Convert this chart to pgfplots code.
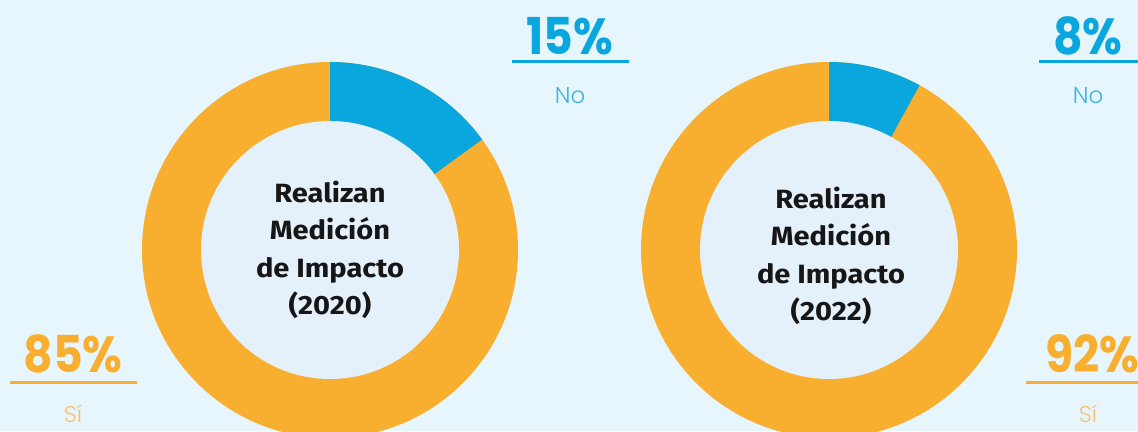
\documentclass[border=0pt]{standalone}
\usepackage{pgfplots}
\pgfplotsset{compat=1.18}
\usepackage{fontspec}
\setmainfont{Fira Sans}
\newfontfamily\pop{Poppins}
\newfontfamily\poplight{Poppins Light}
\definecolor{bgcol}{RGB}{231,245,252}
\definecolor{innercol}{RGB}{228,240,250}
\definecolor{bluec}{RGB}{10,167,223}
\definecolor{orangec}{RGB}{248,175,47}
\definecolor{oranget}{RGB}{246,194,112}
\definecolor{bluet}{RGB}{60,180,228}
\definecolor{darkt}{RGB}{22,22,22}
% data: percentages
\def\noA{15}\def\siA{85}
\def\noB{8}\def\siB{92}
\begin{document}
\begin{tikzpicture}
\begin{axis}[
  width=1138bp, height=431bp, scale only axis,
  xmin=0, xmax=1138, ymin=0, ymax=431,
  hide axis, clip=true,
]
\fill[bgcol] (rel axis cs:0,0) rectangle (rel axis cs:1,1);
% donut 2020
\pgfmathsetmacro{\eA}{90-3.6*\noA}
\fill[orangec] (axis cs:330,181) circle[radius=188bp];
\fill[bluec] (axis cs:330,181) -- ++(90:188bp) arc[start angle=90, end angle=\eA, radius=188bp] -- cycle;
\fill[innercol] (axis cs:330,181) circle[radius=129bp];
% donut 2022
\pgfmathsetmacro{\eB}{90-3.6*\noB}
\fill[orangec] (axis cs:829,181) circle[radius=188bp];
\fill[bluec] (axis cs:829,181) -- ++(90:188bp) arc[start angle=90, end angle=\eB, radius=188bp] -- cycle;
\fill[innercol] (axis cs:829,181) circle[radius=129bp];
% center texts
\node[align=center, text=darkt, xscale=1.1, font=\fontsize{26.5}{37.5}\selectfont\bfseries] at (axis cs:330,181) {Realizan\\Medición\\de Impacto\\(2020)};
\node[align=center, text=darkt, xscale=1.1, font=\fontsize{26.5}{37.5}\selectfont\bfseries] at (axis cs:831,175) {Realizan\\Medición\\de Impacto\\(2022)};
% labels 2020
\node[anchor=base, xscale=0.9, text=bluec, font=\fontsize{51}{51}\selectfont\pop\bfseries] at (axis cs:570,376) {\noA\%};
\draw[bluec, line width=3bp] (axis cs:512,369) -- (axis cs:629,369);
\node[anchor=base, text=bluet, font=\fontsize{23}{23}\selectfont\poplight] at (axis cs:570,327) {No};
\node[anchor=base, xscale=0.9, text=orangec, font=\fontsize{51}{51}\selectfont\pop\bfseries] at (axis cs:73,59) {\siA\%};
\draw[orangec, line width=3bp] (axis cs:10,49) -- (axis cs:137,49);
\node[anchor=base, text=oranget, font=\fontsize{23}{23}\selectfont\poplight] at (axis cs:73,9) {Sí};
% labels 2022
\node[anchor=base, xscale=0.9, text=bluec, font=\fontsize{51}{51}\selectfont\pop\bfseries] at (axis cs:1088,376) {\noB\%};
\draw[bluec, line width=3bp] (axis cs:1039,369) -- (axis cs:1140,369);
\node[anchor=base, text=bluet, font=\fontsize{23}{23}\selectfont\poplight] at (axis cs:1088,327) {No};
\node[anchor=base, xscale=0.9, text=orangec, font=\fontsize{51}{51}\selectfont\pop\bfseries] at (axis cs:1092,59) {\siB\%};
\draw[orangec, line width=3bp] (axis cs:1026,49) -- (axis cs:1140,49);
\node[anchor=base, text=oranget, font=\fontsize{23}{23}\selectfont\poplight] at (axis cs:1088,9) {Sí};
\end{axis}
\pgfresetboundingbox
\path[use as bounding box] (current axis.south west) rectangle (current axis.north east);
\end{tikzpicture}
\end{document}
